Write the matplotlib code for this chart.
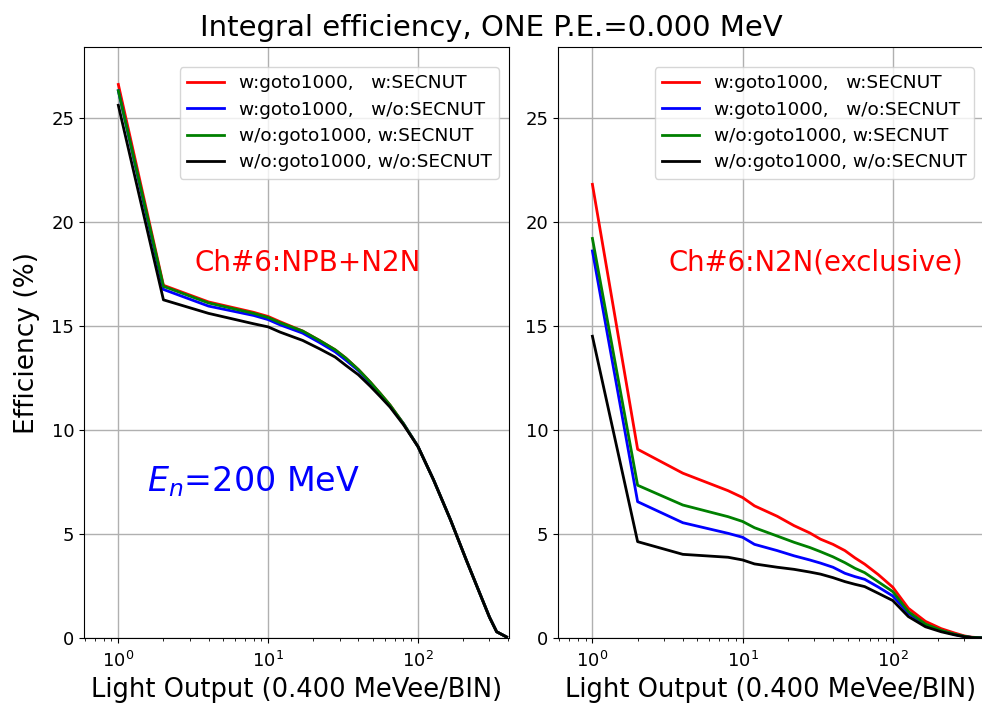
import matplotlib
matplotlib.use('Agg')
import matplotlib.pyplot as plt

plt.rcParams['font.family'] = ['DejaVu Sans']

# light output bins
x = [1, 2, 4, 8, 10, 12, 17, 22, 28, 33, 40, 48, 56, 65, 80, 100, 127, 165, 210, 258, 300, 335, 390]

# left panel: Ch#6:NPB+N2N
npb_red = [26.6, 16.95, 16.15, 15.65, 15.45, 15.2, 14.75, 14.3, 13.85, 13.45, 12.9, 12.3, 11.75, 11.2, 10.3, 9.2, 7.6, 5.67, 3.75, 2.16, 1.0, 0.3, 0.05]
npb_blue = [26.3, 16.75, 15.95, 15.5, 15.3, 15.05, 14.65, 14.2, 13.75, 13.35, 12.85, 12.25, 11.7, 11.15, 10.3, 9.2, 7.6, 5.67, 3.75, 2.16, 1.0, 0.3, 0.05]
npb_green = [26.3, 16.9, 16.1, 15.6, 15.4, 15.15, 14.75, 14.3, 13.85, 13.45, 12.9, 12.3, 11.75, 11.2, 10.3, 9.2, 7.6, 5.67, 3.75, 2.16, 1.0, 0.3, 0.05]
npb_black = [25.6, 16.25, 15.6, 15.1, 14.95, 14.7, 14.3, 13.9, 13.5, 13.1, 12.65, 12.1, 11.6, 11.1, 10.25, 9.2, 7.6, 5.67, 3.75, 2.16, 1.0, 0.3, 0.05]

# right panel: Ch#6:N2N(exclusive)
n2n_red = [21.8, 9.07, 7.92, 7.08, 6.75, 6.35, 5.85, 5.4, 5.05, 4.75, 4.5, 4.2, 3.85, 3.55, 3.05, 2.44, 1.43, 0.8, 0.45, 0.24, 0.1, 0.04, 0.01]
n2n_blue = [18.6, 6.55, 5.54, 5.03, 4.84, 4.5, 4.2, 3.95, 3.75, 3.6, 3.4, 3.11, 2.95, 2.82, 2.45, 2.02, 1.19, 0.63, 0.35, 0.17, 0.07, 0.03, 0.01]
n2n_green = [19.2, 7.34, 6.39, 5.83, 5.6, 5.3, 4.9, 4.6, 4.35, 4.15, 3.9, 3.62, 3.35, 3.14, 2.7, 2.23, 1.27, 0.67, 0.37, 0.18, 0.08, 0.03, 0.01]
n2n_black = [14.5, 4.63, 4.02, 3.88, 3.75, 3.56, 3.4, 3.3, 3.17, 3.07, 2.9, 2.71, 2.58, 2.47, 2.15, 1.8, 1.03, 0.54, 0.3, 0.15, 0.06, 0.02, 0.0]

labels = ['w:goto1000,   w:SECNUT', 'w:goto1000,   w/o:SECNUT',
          'w/o:goto1000, w:SECNUT', 'w/o:goto1000, w/o:SECNUT']
colors = ['red', 'blue', 'green', 'black']

fig = plt.figure(figsize=(9.82, 7.06), dpi=100)
ax1 = fig.add_axes([84 / 982, 1 - 638 / 706, 425 / 982, 591 / 706])
ax2 = fig.add_axes([558 / 982, 1 - 638 / 706, 426 / 982, 591 / 706])

left = [npb_red, npb_blue, npb_green, npb_black]
right = [n2n_red, n2n_blue, n2n_green, n2n_black]

for ax, series in [(ax1, left), (ax2, right)]:
    for y, c, lab in zip(series, colors, labels):
        ax.plot(x, y, color=c, linewidth=2.0, label=lab)
    ax.set_xscale('log')
    ax.set_xlim(0.59, 405)
    ax.set_ylim(0, 28.4)
    ax.grid(True, color='#b0b0b0', linewidth=1.0)
    ax.tick_params(labelsize=13)
    ax.tick_params(axis='x', which='major', pad=6)
    ax.set_xlabel('Light Output (0.400 MeVee/BIN)', fontsize=18.5)
    ax.legend(loc='upper right', fontsize=13.3, labelspacing=0.45,
              borderaxespad=0, bbox_to_anchor=(1 - 10 / 425, 1 - 20 / 591))

ax1.set_ylabel('Efficiency (%)', fontsize=19, labelpad=8)
ax1.text(0.527, 0.635, 'Ch#6:NPB+N2N', color='red', fontsize=20,
         transform=ax1.transAxes, ha='center', va='center')
ax1.text(0.40, 0.264, '$E_n$=200 MeV', color='blue', fontsize=24,
         transform=ax1.transAxes, ha='center', va='center')
ax2.text(0.606, 0.635, 'Ch#6:N2N(exclusive)', color='red', fontsize=19.8,
         transform=ax2.transAxes, ha='center', va='center')

fig.suptitle('Integral efficiency, ONE P.E.=0.000 MeV', fontsize=21, y=0.98)

fig.savefig('out.png', dpi=100)
